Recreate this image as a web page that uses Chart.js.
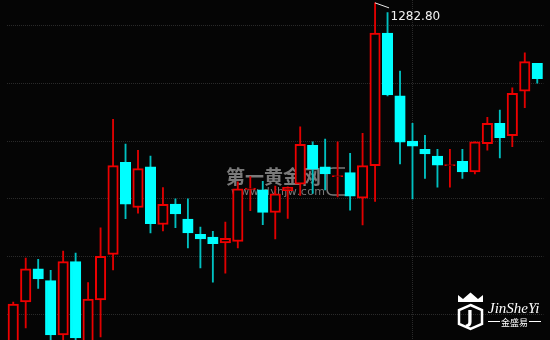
<!DOCTYPE html>
<html>
<head>
<meta charset="utf-8">
<script src="https://cdn.jsdelivr.net/npm/chart.js@4.4.1/dist/chart.umd.min.js"></script>
<style>
  html, body { margin: 0; padding: 0; background: #050505; }
  #wrap { width: 550px; height: 340px; }
</style>
</head>
<body>
<div id="wrap"><canvas id="kChart" width="550" height="340"></canvas></div>
<script>
// K线数据 (开/高/低/收)
const opens = [1270.92, 1272.42, 1273.57, 1273.16, 1271.28, 1273.82, 1270.75, 1272.49, 1274.07, 1277.27,
  1275.70, 1277.11, 1275.11, 1275.82, 1275.30, 1274.77, 1274.67, 1274.47, 1274.52, 1276.33,
  1276.31, 1275.53, 1276.28, 1276.51, 1277.86, 1277.11, 1276.77, 1276.91, 1276.02, 1277.15,
  1281.75, 1279.57, 1278.00, 1277.72, 1277.48, 1277.15, 1277.30, 1276.93, 1277.91, 1278.62,
  1278.19, 1279.74, 1280.70];
const highs = [1272.42, 1273.94, 1273.90, 1273.52, 1274.19, 1274.12, 1273.09, 1274.99, 1278.76, 1277.90,
  1277.68, 1277.48, 1276.39, 1276.00, 1276.00, 1275.02, 1274.87, 1275.19, 1276.59, 1276.77,
  1276.61, 1276.44, 1276.42, 1278.50, 1277.98, 1278.07, 1277.98, 1277.58, 1278.27, 1282.80,
  1282.46, 1280.43, 1278.62, 1278.20, 1277.72, 1277.72, 1277.72, 1277.98, 1278.83, 1279.08,
  1279.85, 1281.07, 1280.70];
const lows = [1270.75, 1271.52, 1272.89, 1271.03, 1270.92, 1270.92, 1270.58, 1271.21, 1273.53, 1275.31,
  1275.50, 1274.82, 1274.89, 1275.00, 1274.30, 1273.60, 1273.11, 1273.42, 1274.30, 1275.59,
  1275.10, 1274.61, 1275.32, 1276.12, 1276.19, 1276.31, 1276.07, 1275.61, 1275.09, 1275.91,
  1279.57, 1277.21, 1276.00, 1276.71, 1276.40, 1276.40, 1276.71, 1276.86, 1277.69, 1277.42,
  1277.81, 1279.16, 1280.01];
const closes = [1272.35, 1273.57, 1273.22, 1271.28, 1273.82, 1271.17, 1272.52, 1274.00, 1277.15, 1275.81,
  1277.05, 1275.14, 1275.81, 1275.48, 1274.82, 1274.61, 1274.44, 1274.63, 1276.35, 1276.37,
  1275.53, 1276.17, 1276.40, 1277.89, 1277.03, 1276.86, 1276.81, 1276.09, 1277.15, 1281.75,
  1279.61, 1277.97, 1277.83, 1277.56, 1277.17, 1277.19, 1276.93, 1277.98, 1278.62, 1278.12,
  1279.66, 1280.76, 1280.17];
const labels = opens.map((_, i) => String(i + 1));
const gridPrices = [1272, 1274, 1276, 1278, 1280, 1282];
const yMin = 1271.1;
const yMax = 1282.9;
const markedBar = 32; // 竖向网格线所在的K线

const RED = '#ee0000';
const RED_WICK = '#e00000';
const CYAN = '#00ffff';
const CYAN_WICK = '#00c0c0';
const BG = '#050505';

const isUp = opens.map((o, i) => closes[i] >= o);

// 水印
const watermark = {
  id: 'watermark',
  beforeDatasetsDraw(chart) {
    const ctx = chart.ctx;
    ctx.save();
    ctx.fillStyle = 'rgba(135,135,135,0.9)';
    ctx.font = 'bold 19px "Noto Sans CJK SC"';
    ctx.textBaseline = 'alphabetic';
    ctx.fillText('第一黄金网', 226, 184);
    ctx.font = '11px "DejaVu Sans"';
    const txt = 'www.dyhjw.com';
    const w = ctx.measureText(txt).width;
    const gap = (92 - w) / (txt.length - 1);
    let x = 231;
    for (const ch of txt) {
      ctx.fillText(ch, x, 195);
      x += ctx.measureText(ch).width + gap;
    }
    ctx.strokeStyle = 'rgba(135,135,135,0.9)';
    ctx.lineWidth = 1.5;
    ctx.beginPath();
    ctx.moveTo(345, 168);
    ctx.lineTo(333, 168);
    ctx.quadraticCurveTo(327, 168, 327, 174);
    ctx.lineTo(327, 189);
    ctx.quadraticCurveTo(327, 195, 333, 195);
    ctx.lineTo(345, 195);
    ctx.stroke();
    ctx.restore();
  }
};

// 最高价标注 + 角标
const overlay = {
  id: 'overlay',
  afterDatasetsDraw(chart) {
    const ctx = chart.ctx;
    const xs = chart.scales.x, ys = chart.scales.y;
    let hi = 0;
    highs.forEach((h, i) => { if (h > highs[hi]) hi = i; });
    const px = xs.getPixelForValue(hi);
    const py = ys.getPixelForValue(highs[hi]);
    ctx.save();
    ctx.strokeStyle = '#e8e8e8';
    ctx.lineWidth = 1;
    ctx.beginPath();
    ctx.moveTo(px, py);
    ctx.lineTo(px + 14, py + 5);
    ctx.stroke();
    ctx.fillStyle = '#f2f2f2';
    ctx.font = '12px "DejaVu Sans"';
    ctx.textBaseline = 'alphabetic';
    ctx.fillText(highs[hi].toFixed(2), px + 15.5, py + 17);

    // logo
    ctx.fillStyle = '#ffffff';
    ctx.strokeStyle = '#ffffff';
    ctx.beginPath();
    ctx.moveTo(458, 302);
    ctx.lineTo(458, 295);
    ctx.lineTo(463, 299);
    ctx.lineTo(470.5, 292.5);
    ctx.lineTo(478, 299);
    ctx.lineTo(483, 295);
    ctx.lineTo(483, 302);
    ctx.closePath();
    ctx.fill();
    ctx.lineWidth = 2.5;
    ctx.beginPath();
    ctx.moveTo(470.5, 305);
    ctx.lineTo(482, 310);
    ctx.lineTo(482, 324);
    ctx.lineTo(470.5, 329);
    ctx.lineTo(459, 324);
    ctx.lineTo(459, 310);
    ctx.closePath();
    ctx.stroke();
    ctx.font = 'bold 17px "DejaVu Sans"';
    ctx.textAlign = 'center';
    ctx.fillText('J', 470, 323);
    ctx.textAlign = 'left';
    ctx.font = 'italic 15px "Liberation Serif"';
    ctx.fillText('JinSheYi', 488, 313);
    ctx.font = '9px "Noto Sans CJK SC"';
    ctx.textAlign = 'center';
    ctx.fillText('金盛易', 514.5, 325.5);
    ctx.lineWidth = 1;
    ctx.beginPath();
    ctx.moveTo(488, 321.5); ctx.lineTo(500, 321.5);
    ctx.moveTo(529, 321.5); ctx.lineTo(541, 321.5);
    ctx.stroke();
    ctx.restore();
  }
};

new Chart(document.getElementById('kChart'), {
  type: 'bar',
  data: {
    labels: labels,
    datasets: [
      {
        label: '实体',
        data: opens.map((o, i) => [o, closes[i]]),
        backgroundColor: isUp.map(u => u ? BG : CYAN),
        borderColor: isUp.map(u => u ? RED : CYAN),
        borderWidth: 2,
        borderSkipped: false,
        barThickness: 10.5,
        grouped: false,
        order: 0
      },
      {
        label: '影线',
        data: lows.map((l, i) => [l, highs[i]]),
        backgroundColor: isUp.map(u => u ? RED_WICK : CYAN_WICK),
        borderWidth: 0,
        barThickness: 1.2,
        grouped: false,
        order: 1
      }
    ]
  },
  options: {
    responsive: false,
    animation: false,
    layout: { padding: { left: 7, right: 6.5, top: 0, bottom: 0 } },
    plugins: {
      legend: { display: false },
      tooltip: { enabled: false }
    },
    scales: {
      x: {
        offset: true,
        ticks: { display: false },
        border: { display: false, dash: [1, 1] },
        grid: {
          offset: false,
          drawTicks: false,
          color: ctx => ctx.index === markedBar ? '#2a2a2a' : 'rgba(0,0,0,0)'
        }
      },
      y: {
        min: yMin,
        max: yMax,
        ticks: { display: false },
        afterBuildTicks: scale => { scale.ticks = gridPrices.map(v => ({ value: v })); },
        border: { display: false, dash: [1, 1] },
        grid: { drawTicks: false, color: '#2a2a2a' }
      }
    }
  },
  plugins: [watermark, overlay]
});
</script>
</body>
</html>
